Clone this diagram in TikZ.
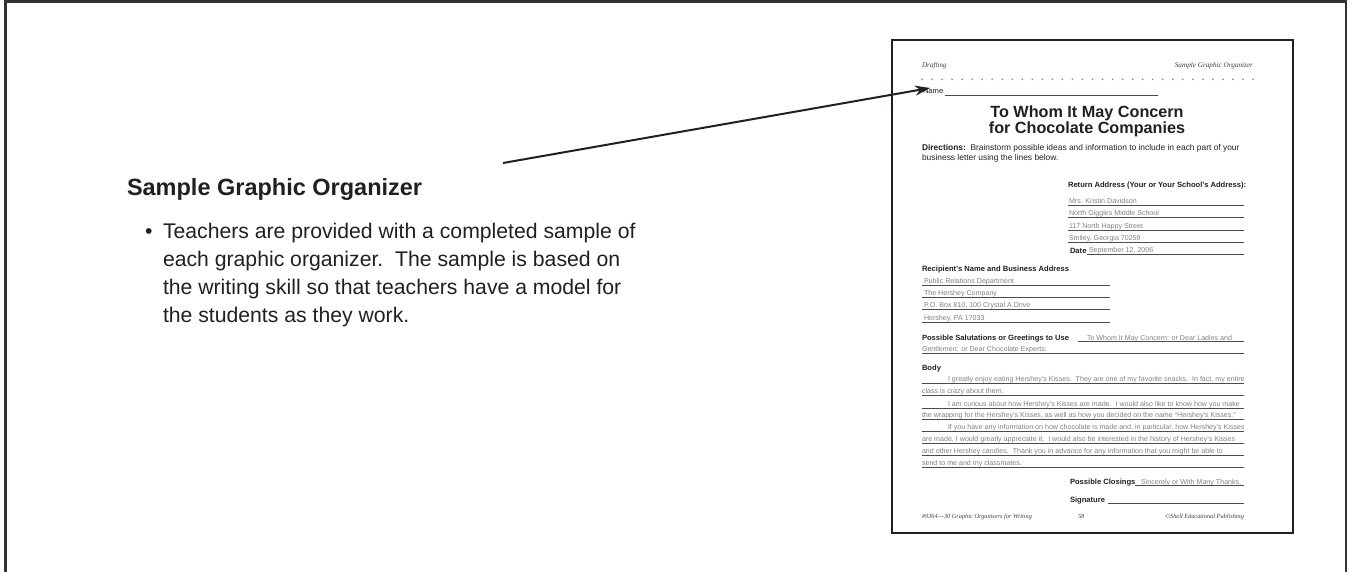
\documentclass[tikz,border=0pt]{standalone}
\usepackage{fontspec}
\setmainfont{Liberation Sans}
\newfontfamily\pgserif{Liberation Serif}
\usetikzlibrary{arrows.meta}
\definecolor{ink}{HTML}{231F20}
\definecolor{handgray}{HTML}{808080}
\tikzset{
  txt/.style={inner sep=0pt, outer sep=0pt, anchor=base west, text=ink},
  hd/.style={txt, font=\pgserif\itshape\fontsize{7.2}{8}\selectfont, text=black!75},
  lbl/.style={txt, font=\bfseries\fontsize{7.6}{9}\selectfont},
  hw/.style={txt, font=\fontsize{7.1}{8}\selectfont, text=handgray},
  ttl/.style={inner sep=0pt, anchor=base, text=ink, font=\bfseries\fontsize{16.2}{18}\selectfont},
  dirs/.style={txt, font=\fontsize{8.4}{9}\selectfont},
  uline/.style={line width=0.55pt, draw=black!70},
  frame/.style={line width=2.6pt, draw=black!80},
  pageframe/.style={line width=1.3pt, draw=ink},
  pointer/.style={line width=2pt, draw=ink, -{Stealth[length=15pt,width=10pt]}},
  bigtxt/.style={txt, font=\fontsize{21.2}{24}\selectfont},
  head/.style={txt, font=\bfseries\fontsize{23.5}{26}\selectfont}
}
\begin{document}
\begin{tikzpicture}[x=1pt,y=-1pt]
\useasboundingbox (0,0) rectangle (1352,571);
% outer frame (open at bottom)
\draw[frame] (5.5,572) -- (5.5,1.3) -- (1346,1.3) -- (1346,572);

% left text
\node[head] (heading) at (127,195) {Sample Graphic Organizer};
\node[bigtxt] (bullet) at (145,238) {•};
\node[bigtxt] (l1) at (163,238) {Teachers are provided with a completed sample of};
\node[bigtxt] (l2) at (163,266) {each graphic organizer.\ \ The sample is based on};
\node[bigtxt] (l3) at (163,294) {the writing skill so that teachers have a model for};
\node[bigtxt] (l4) at (163,322) {the students as they work.};

% page
\draw[pageframe] (892,40) rectangle (1293,533);
\node[hd] (drafting) at (922,67) {Drafting};
\node[hd, anchor=base east] (sgo) at (1253,67) {Sample Graphic Organizer};
\foreach \i in {0,...,33} \fill[black!45] ({922+\i*10.03},79.3) circle (0.95);
\node[txt, font=\fontsize{7.6}{8}\selectfont] (name) at (923,93.3) {Name};
\draw[uline] (945,95) -- (1158,95);
\node[ttl] (t1) at (1087,117) {To Whom It May Concern};
\node[ttl] (t2) at (1087,133) {for Chocolate Companies};
\node[dirs] (dir1) at (922,150) {\textbf{Directions:}\ \ Brainstorm possible ideas and information to include in each part of your};
\node[dirs] (dir2) at (922,160) {business letter using the lines below.};

% return address
\node[lbl] (ret) at (1068,187) {Return Address (Your or Your School's Address):};
\node[hw] (r1) at (1069,203.3) {Mrs. Kristin Davidson};
\draw[uline] (1068,205) -- (1244,205);
\node[hw] (r2) at (1069,215.8) {North Giggles Middle School};
\draw[uline] (1068,217.5) -- (1244,217.5);
\node[hw] (r3) at (1069,228.3) {117 North Happy Street};
\draw[uline] (1068,230) -- (1244,230);
\node[hw] (r4) at (1069,240.3) {Smiley, Georgia 70259};
\draw[uline] (1068,242) -- (1244,242);
\node[lbl] (date) at (1070,253) {Date};
\node[hw] (dtv) at (1089,252.8) {September 12, 2006};
\draw[uline] (1087,254.5) -- (1244,254.5);

% recipient
\node[lbl] (rec) at (922,271) {Recipient's Name and Business Address};
\node[hw] (p1) at (924,283.3) {Public Relations Department};
\draw[uline] (922,285) -- (1110,285);
\node[hw] (p2) at (924,295.3) {The Hershey Company};
\draw[uline] (922,297) -- (1110,297);
\node[hw] (p3) at (924,307.8) {P.O. Box 810, 100 Crystal A Drive};
\draw[uline] (922,309.5) -- (1110,309.5);
\node[hw] (p4) at (924,320.3) {Hershey, PA 17033};
\draw[uline] (922,322) -- (1110,322);

% salutations
\node[lbl] (sal) at (922,340) {Possible Salutations or Greetings to Use};
\node[hw] (s1) at (1087,340) {To Whom It May Concern: or Dear Ladies and};
\draw[uline] (1078,341.7) -- (1244,341.7);
\node[hw] (s2) at (922,351.3) {Gentlemen: or Dear Chocolate Experts:};
\draw[uline] (922,353) -- (1244,353);

% body
\node[lbl] (body) at (922,370) {Body};
\node[hw] (b1) at (948,381.3) {I greatly enjoy eating Hershey's Kisses.\ \ They are one of my favorite snacks.\ \ In fact, my entire};
\draw[uline] (922,383) -- (1244,383);
\node[hw] (b2) at (922,393.8) {class is crazy about them.};
\draw[uline] (922,395.5) -- (1244,395.5);
\node[hw] (b3) at (948,406.3) {I am curious about how Hershey's Kisses are made.\ \ I would also like to know how you make};
\draw[uline] (922,408) -- (1244,408);
\node[hw] (b4) at (922,417.8) {the wrapping for the Hershey's Kisses, as well as how you decided on the name ``Hershey's Kisses.''};
\draw[uline] (922,419.5) -- (1244,419.5);
\node[hw] (b5) at (948,429.8) {If you have any information on how chocolate is made and, in particular, how Hershey's Kisses};
\draw[uline] (922,431.5) -- (1244,431.5);
\node[hw] (b6) at (922,441.3) {are made, I would greatly appreciate it.\ \ I would also be interested in the history of Hershey's Kisses};
\draw[uline] (922,443) -- (1244,443);
\node[hw] (b7) at (922,453.3) {and other Hershey candies.\ \ Thank you in advance for any information that you might be able to};
\draw[uline] (922,455) -- (1244,455);
\node[hw] (b8) at (922,465.3) {send to me and my classmates.};
\draw[uline] (922,467) -- (1244,467);

% closings
\node[lbl] (clo) at (1070,484) {Possible Closings};
\node[hw] (cv) at (1141,484) {Sincerely or With Many Thanks,};
\draw[uline] (1135,485.7) -- (1244,485.7);
\node[lbl] (sig) at (1070,502) {Signature};
\draw[uline] (1108,503.5) -- (1244,503.5);

% footer
\node[hd, font=\pgserif\itshape\fontsize{6.3}{7}\selectfont] (f1) at (922,518) {\#9364---30 Graphic Organizers for Writing};
\node[hd, font=\pgserif\itshape\fontsize{6.3}{7}\selectfont] (f2) at (1078,518) {58};
\node[hd, anchor=base east, font=\pgserif\itshape\fontsize{6.3}{7}\selectfont] (f3) at (1244,518) {©Shell Educational Publishing};

% arrow
\coordinate (arrowstart) at (503,163);
\coordinate (arrowtip) at (930,88);
\draw[pointer] (arrowstart) -- (arrowtip);
\end{tikzpicture}
\end{document}
